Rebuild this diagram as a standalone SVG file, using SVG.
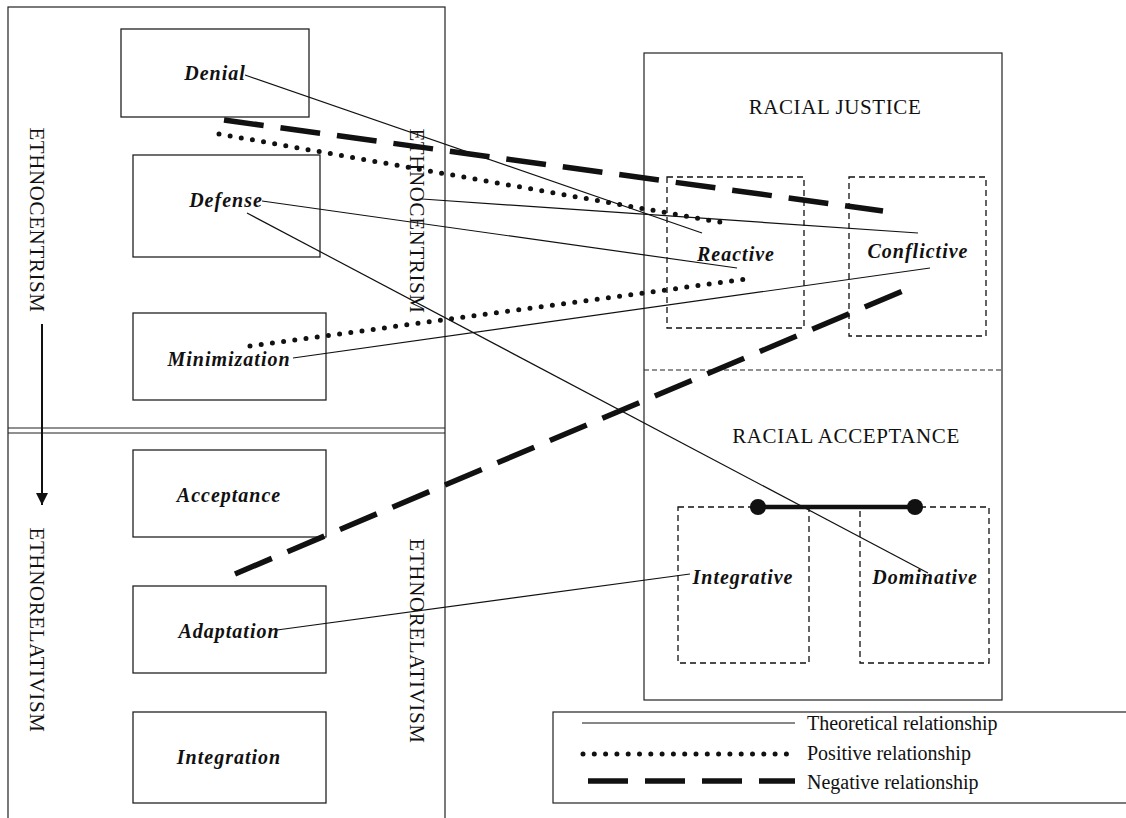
<svg xmlns="http://www.w3.org/2000/svg" width="1126" height="818" viewBox="0 0 1126 818">
<style>
.frame{fill:none;stroke:#222;stroke-width:1.2}
.box{fill:#fff;stroke:#222;stroke-width:1.3}
.dbox{fill:none;stroke:#111;stroke-width:1.3;stroke-dasharray:6 4}
.node{font-family:"Liberation Serif","Times New Roman",serif;font-size:20px;font-style:italic;font-weight:bold;fill:#111;text-anchor:middle;letter-spacing:1px}
.caps{font-family:"Liberation Serif","Times New Roman",serif;font-size:21px;fill:#111;text-anchor:middle;letter-spacing:0.6px}
.leg{font-family:"Liberation Serif","Times New Roman",serif;font-size:20px;fill:#111}
.theo{stroke:#111;stroke-width:1.2;fill:none}
.pos{stroke:#111;stroke-width:5;fill:none;stroke-dasharray:0 11.3;stroke-linecap:round}
.neg{stroke:#111;stroke-width:5.5;fill:none;stroke-dasharray:40 17}
</style>
<defs>
<marker id="arr" viewBox="0 0 12 12" refX="12" refY="6" markerWidth="12" markerHeight="12" markerUnits="userSpaceOnUse" orient="auto">
<path d="M0,0 L12,6 L0,12 Z" fill="#111"/>
</marker>
</defs>
<rect width="1126" height="818" fill="#fff"/>

<g id="left-frame">
<rect class="frame" x="8" y="7" width="437" height="830"/>
<line class="frame" x1="8" y1="428" x2="445" y2="428"/>
<line class="frame" x1="8" y1="433" x2="445" y2="433"/>
<text class="caps" transform="translate(30,220) rotate(90)">ETHNOCENTRISM</text>
<text class="caps" transform="translate(30,630) rotate(90)">ETHNORELATIVISM</text>
<text class="caps" transform="translate(410,221) rotate(90)">ETHNOCENTRISM</text>
<text class="caps" transform="translate(410,641) rotate(90)">ETHNORELATIVISM</text>
<line x1="42" y1="324" x2="42" y2="505" stroke="#111" stroke-width="2" marker-end="url(#arr)"/>
</g>

<g id="right-frame">
<rect class="frame" x="644" y="53" width="358" height="647"/>
<line x1="644" y1="370" x2="1002" y2="370" stroke="#222" stroke-width="1" stroke-dasharray="5 3"/>
<text class="caps" x="835" y="114">RACIAL JUSTICE</text>
<text class="caps" x="846" y="443">RACIAL ACCEPTANCE</text>
</g>

<g id="node-denial"><rect class="box" x="121" y="29" width="188" height="88"/><text class="node" x="215" y="80">Denial</text></g>
<g id="node-defense"><rect class="box" x="133" y="155" width="187" height="102"/><text class="node" x="226" y="207">Defense</text></g>
<g id="node-minimization"><rect class="box" x="133" y="313" width="193" height="87"/><text class="node" x="229" y="366">Minimization</text></g>
<g id="node-acceptance"><rect class="box" x="133" y="450" width="193" height="87"/><text class="node" x="229" y="502">Acceptance</text></g>
<g id="node-adaptation"><rect class="box" x="133" y="586" width="193" height="87"/><text class="node" x="229" y="638">Adaptation</text></g>
<g id="node-integration"><rect class="box" x="133" y="712" width="193" height="91"/><text class="node" x="229" y="764">Integration</text></g>

<g id="node-reactive"><rect class="dbox" x="667" y="177" width="137" height="151"/><text class="node" x="736" y="261">Reactive</text></g>
<g id="node-conflictive"><rect class="dbox" x="849" y="177" width="137" height="159"/><text class="node" x="918" y="258">Conflictive</text></g>
<g id="node-integrative"><rect class="dbox" x="678" y="507" width="131" height="156"/><text class="node" x="743" y="584">Integrative</text></g>
<g id="node-dominative"><rect class="dbox" x="860" y="507" width="129" height="156"/><text class="node" x="925" y="584">Dominative</text></g>

<g id="connectors">
<line class="theo" x1="245" y1="75" x2="702" y2="233"/>
<line class="theo" x1="422" y1="199" x2="918" y2="233"/>
<line class="theo" x1="262" y1="201" x2="737" y2="268"/>
<line class="theo" x1="247" y1="213" x2="928" y2="573"/>
<line class="theo" x1="293" y1="358" x2="930" y2="268"/>
<line class="theo" x1="277" y1="630" x2="690" y2="574"/>
<line class="pos" x1="219" y1="134" x2="725" y2="223"/>
<line class="pos" x1="250" y1="346" x2="747" y2="279"/>
<line class="neg" x1="224" y1="120" x2="883" y2="211"/>
<line class="neg" x1="235" y1="574" x2="905" y2="290"/>
<line x1="758" y1="507" x2="915" y2="507" stroke="#111" stroke-width="4.5"/>
<circle cx="758" cy="507" r="8" fill="#111"/>
<circle cx="915" cy="507" r="8" fill="#111"/>
</g>

<g id="legend">
<rect class="frame" x="553" y="712" width="600" height="91"/>
<line class="theo" x1="582" y1="723" x2="795" y2="723"/>
<text class="leg" x="807" y="730">Theoretical relationship</text>
<line class="pos" x1="583" y1="754" x2="795" y2="754"/>
<text class="leg" x="807" y="760">Positive relationship</text>
<line class="neg" x1="588" y1="781" x2="795" y2="781"/>
<text class="leg" x="807" y="789">Negative relationship</text>
</g>
</svg>
